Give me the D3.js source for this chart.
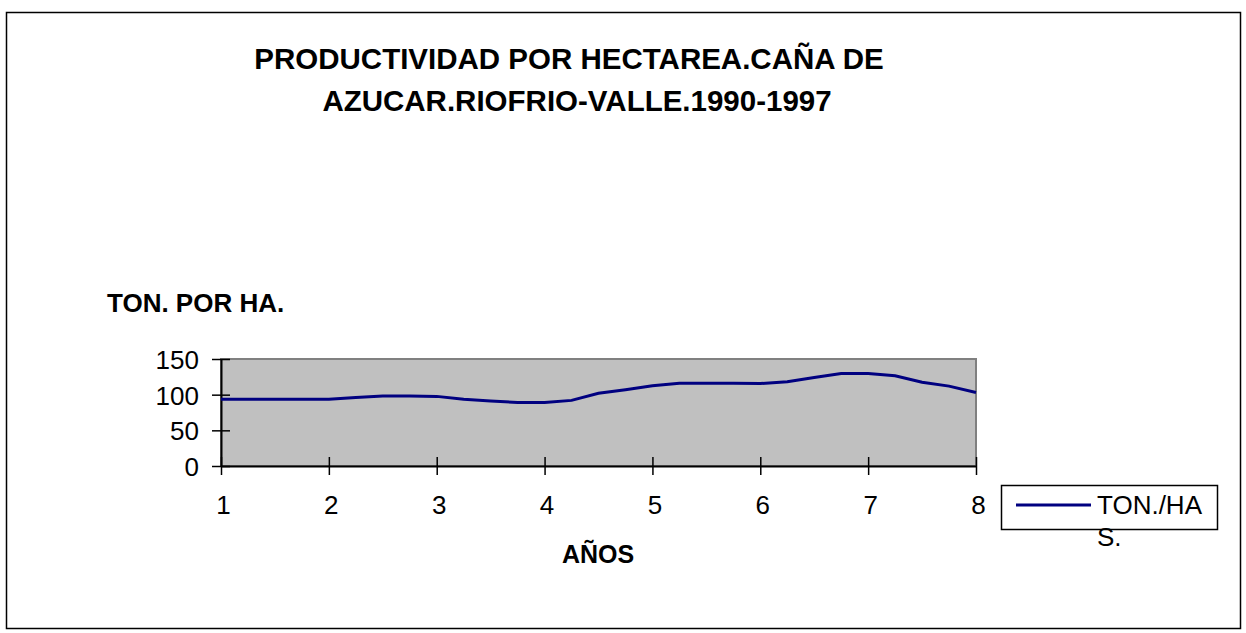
<!DOCTYPE html>
<html>
<head>
<meta charset="utf-8">
<script src="https://cdn.jsdelivr.net/npm/d3@7"></script>
<style>
  body { margin: 0; background: #fff; }
  text { font-family: "Liberation Sans", Arial, sans-serif; fill: #000; }
  .title, .axis-title { font-weight: bold; }
</style>
</head>
<body>
<svg id="chart"></svg>
<script>
// positions along the x axis (quarter steps between the labelled years)
const periods = [1, 1.25, 1.5, 1.75, 2, 2.25, 2.5, 2.75, 3, 3.25, 3.5, 3.75, 4, 4.25, 4.5, 4.75,
  5, 5.25, 5.5, 5.75, 6, 6.25, 6.5, 6.75, 7, 7.25, 7.5, 7.75, 8];
const tonHa = [93.5, 93.5, 93.5, 93.5, 93.5, 96, 98, 98, 97.6, 93.5, 91, 89, 89, 92, 102, 107,
  112.5, 116, 116, 116, 115.5, 118, 124, 129.6, 129.6, 126.5, 117.5, 112, 103];
const xTicks = [1, 2, 3, 4, 5, 6, 7, 8];
const yTicks = [0, 50, 100, 150];
const seriesName = ["TON./HA", "S."];

const W = 1246, H = 633;
const plot = { left: 221, right: 976, top: 359, bottom: 466 };

const svg = d3.select("#chart").attr("width", W).attr("height", H);

// outer frame
svg.append("rect")
  .attr("x", 6.5).attr("y", 12.5)
  .attr("width", 1234).attr("height", 616)
  .attr("fill", "none").attr("stroke", "#000").attr("stroke-width", 1.5);

const x = d3.scaleLinear().domain([1, 8]).range([plot.left, plot.right]);
const y = d3.scaleLinear().domain([0, 150]).range([plot.bottom, plot.top]);

// plot background
svg.append("rect")
  .attr("x", plot.left).attr("y", plot.top)
  .attr("width", plot.right - plot.left).attr("height", plot.bottom - plot.top)
  .attr("fill", "#c0c0c0").attr("stroke", "#808080").attr("stroke-width", 2);

// y axis
const yAxis = svg.append("g")
  .attr("transform", `translate(${plot.left},0)`)
  .call(d3.axisLeft(y).tickValues(yTicks).tickSizeOuter(0));
yAxis.selectAll(".tick line").attr("x2", 9).attr("x1", -9).attr("stroke-width", 1.5);
yAxis.select(".domain").attr("stroke-width", 2);
yAxis.selectAll(".tick text").attr("font-size", 26).attr("x", -22).attr("dy", "0.36em");

// x axis
const xAxis = svg.append("g")
  .attr("transform", `translate(0,${plot.bottom})`)
  .call(d3.axisBottom(x).tickValues(xTicks).tickFormat(d3.format("d")).tickSizeOuter(0));
xAxis.selectAll(".tick line").attr("y1", -9).attr("y2", 9).attr("stroke-width", 1.5);
xAxis.select(".domain").attr("stroke-width", 2);
xAxis.selectAll(".tick text").attr("font-size", 26).attr("y", 48).attr("dy", 0).attr("dx", 2);

// series line
svg.append("path")
  .datum(periods.map((p, i) => [p, tonHa[i]]))
  .attr("fill", "none")
  .attr("stroke", "#000080")
  .attr("stroke-width", 3)
  .attr("d", d3.line().x(d => x(d[0])).y(d => y(d[1])));

// titles
const title = svg.append("text").attr("class", "title")
  .attr("text-anchor", "middle").attr("font-size", 29.5);
title.append("tspan").attr("x", 569).attr("y", 69).text("PRODUCTIVIDAD POR HECTAREA.CAÑA DE");
title.append("tspan").attr("x", 577).attr("y", 111).text("AZUCAR.RIOFRIO-VALLE.1990-1997");

svg.append("text").attr("class", "axis-title")
  .attr("x", 107).attr("y", 312).attr("font-size", 26)
  .text("TON. POR HA.");

svg.append("text").attr("class", "axis-title")
  .attr("x", 598).attr("y", 563).attr("font-size", 25)
  .attr("text-anchor", "middle")
  .text("AÑOS");

// legend
const legend = svg.append("g");
legend.append("rect")
  .attr("x", 1001.5).attr("y", 485.5).attr("width", 216).attr("height", 44)
  .attr("fill", "#fff").attr("stroke", "#000").attr("stroke-width", 1.5);
legend.append("line")
  .attr("x1", 1016).attr("x2", 1091).attr("y1", 505).attr("y2", 505)
  .attr("stroke", "#000080").attr("stroke-width", 3);
const lt = legend.append("text").attr("font-size", 26);
lt.selectAll("tspan").data(seriesName).join("tspan")
  .attr("x", 1097)
  .attr("y", (d, i) => 514 + i * 32)
  .text(d => d);
</script>
</body>
</html>
